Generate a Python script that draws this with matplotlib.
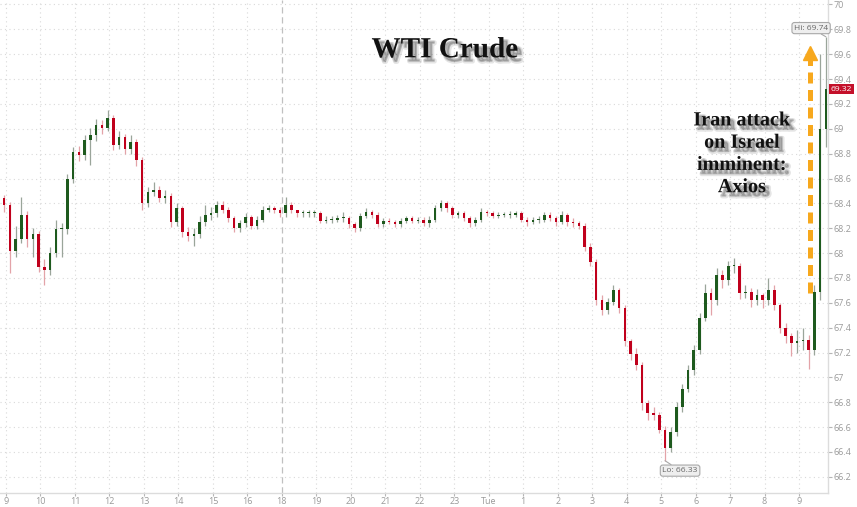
import matplotlib
matplotlib.use("Agg")
import matplotlib.pyplot as plt
import matplotlib.patheffects as pe
import numpy as np

# ---- data (10-minute candles) ----
closes = [68.44, 68.39, 68.02, 68.11, 68.31, 68.11, 68.15, 67.89, 67.86, 68.00,
          68.19, 68.19, 68.60, 68.81, 68.79, 68.91, 68.95, 69.03, 69.01, 69.09,
          68.87, 68.93, 68.84, 68.89, 68.75, 68.40, 68.49, 68.51, 68.44, 68.46,
          68.25, 68.36, 68.17, 68.14, 68.15, 68.25, 68.31, 68.32, 68.39, 68.35,
          68.28, 68.20, 68.24, 68.29, 68.22, 68.27, 68.35, 68.36, 68.35, 68.32,
          68.39, 68.35, 68.32, 68.32, 68.32, 68.32, 68.26, 68.27, 68.27, 68.28,
          68.28, 68.23, 68.20, 68.30, 68.33, 68.31, 68.23, 68.26, 68.25, 68.23,
          68.26, 68.28, 68.26, 68.27, 68.24, 68.27, 68.36, 68.40, 68.36, 68.31,
          68.32, 68.28, 68.24, 68.27, 68.33, 68.32, 68.30, 68.31, 68.31, 68.31,
          68.32, 68.27, 68.25, 68.27, 68.27, 68.31, 68.28, 68.25, 68.31, 68.25,
          68.24, 68.22, 68.05, 67.93, 67.62, 67.54, 67.61, 67.70, 67.56, 67.29,
          67.19, 67.10, 66.79, 66.71, 66.70, 66.58, 66.43, 66.56, 66.76, 66.91,
          67.06, 67.22, 67.48, 67.68, 67.62, 67.82, 67.78, 67.90, 67.90, 67.68,
          67.69, 67.62, 67.66, 67.62, 67.70, 67.58, 67.40, 67.33, 67.28, 67.29,
          67.30, 67.22, 67.69, 69.00, 69.32]
first_open = 68.40
highs = [68.47, 68.47, 68.41, 68.22, 68.45, 68.34, 68.20, 68.18, 67.95, 68.05,
         68.27, 68.24, 68.64, 68.85, 68.86, 68.95, 69.01, 69.08, 69.07, 69.15,
         69.11, 68.98, 68.96, 68.95, 68.92, 68.77, 68.53, 68.57, 68.54, 68.51,
         68.48, 68.40, 68.38, 68.21, 68.20, 68.30, 68.39, 68.37, 68.42, 68.42,
         68.37, 68.30, 68.27, 68.32, 68.31, 68.30, 68.38, 68.39, 68.38, 68.37,
         68.45, 68.41, 68.35, 68.35, 68.35, 68.35, 68.34, 68.30, 68.30, 68.31,
         68.33, 68.30, 68.25, 68.32, 68.36, 68.35, 68.33, 68.28, 68.28, 68.27,
         68.28, 68.30, 68.30, 68.29, 68.29, 68.30, 68.39, 68.43, 68.42, 68.38,
         68.34, 68.34, 68.30, 68.29, 68.36, 68.35, 68.34, 68.33, 68.33, 68.34,
         68.34, 68.34, 68.29, 68.29, 68.30, 68.33, 68.33, 68.30, 68.34, 68.32,
         68.28, 68.26, 68.24, 68.08, 67.95, 67.66, 67.64, 67.74, 67.72, 67.58,
         67.31, 67.24, 67.12, 66.82, 66.76, 66.72, 66.61, 66.60, 66.80, 66.95,
         67.10, 67.26, 67.52, 67.75, 67.72, 67.88, 67.86, 67.94, 67.96, 67.92,
         67.74, 67.72, 67.71, 67.68, 67.80, 67.74, 67.60, 67.44, 67.36, 67.38,
         67.40, 67.34, 67.74, 69.60, 69.74]
lows = [68.36, 68.33, 67.84, 67.97, 68.08, 68.05, 67.97, 67.85, 67.74, 67.82,
        67.97, 67.97, 68.15, 68.56, 68.74, 68.75, 68.71, 68.90, 68.96, 68.98,
        68.83, 68.84, 68.80, 68.80, 68.70, 68.35, 68.37, 68.46, 68.41, 68.40,
        68.21, 68.22, 68.13, 68.10, 68.06, 68.12, 68.22, 68.27, 68.29, 68.32,
        68.25, 68.17, 68.17, 68.21, 68.19, 68.19, 68.25, 68.33, 68.32, 68.29,
        68.29, 68.32, 68.29, 68.29, 68.29, 68.29, 68.24, 68.24, 68.24, 68.25,
        68.25, 68.20, 68.17, 68.18, 68.28, 68.28, 68.21, 68.21, 68.23, 68.21,
        68.21, 68.24, 68.24, 68.24, 68.22, 68.21, 68.25, 68.34, 68.33, 68.28,
        68.28, 68.26, 68.21, 68.22, 68.25, 68.30, 68.28, 68.28, 68.29, 68.28,
        68.29, 68.25, 68.22, 68.23, 68.24, 68.25, 68.26, 68.22, 68.23, 68.22,
        68.21, 68.19, 68.02, 67.90, 67.58, 67.50, 67.51, 67.58, 67.52, 67.25,
        67.14, 67.06, 66.74, 66.66, 66.66, 66.55, 66.33, 66.40, 66.53, 66.72,
        66.88, 67.02, 67.19, 67.45, 67.50, 67.58, 67.72, 67.74, 67.84, 67.63,
        67.64, 67.57, 67.58, 67.56, 67.58, 67.54, 67.36, 67.28, 67.17, 67.20,
        67.22, 67.07, 67.18, 67.62, 68.85]
tick_labels = ['9', '10', '11', '12', '13', '14', '15', '16', '18', '19', '20',
               '21', '22', '23', 'Tue', '1', '2', '3', '4', '5', '6', '7', '8', '9']
session_break_label = '18'
title = 'WTI Crude'
note = 'Iran attack\non Israel\nimminent:\nAxios'

# ---- derived ----
closes = np.array(closes)
opens = np.concatenate([[first_open], closes[:-1]])
highs = np.array(highs)
lows = np.array(lows)
n = len(closes)
t = -0.22 + np.arange(n) / 6.0          # trading-hour index (9:00 = 0)
tick_pos = np.arange(len(tick_labels))

W, H = 857, 507
fig = plt.figure(figsize=(W / 100, H / 100), dpi=100)
ax = fig.add_axes([0, 14 / H, 828 / W, 493 / H])
ax.set_xlim(-0.174, 23.84)
ax.set_ylim(66.070, 70.036)

# grid
for y in np.arange(66.2, 70.01, 0.2):
    ax.axhline(y, color='#d9d9d9', lw=0.8, ls=(0, (1, 3)), zorder=0)
for p, lab in zip(tick_pos, tick_labels):
    if lab == session_break_label:
        ax.axvline(p, color='#c0c0c0', lw=0.9, ls=(0, (5, 3)), zorder=0)
    else:
        ax.axvline(p, color='#d9d9d9', lw=0.8, ls=(0, (1, 3)), zorder=0)

# candles
up = closes >= opens
w = 0.45 / 6
body_col = np.where(up, '#1e5a1e', '#c0001c')
wick_col = np.where(up, '#9aa59a', '#e3a3a8')
ax.vlines(t, lows, highs, colors=wick_col, lw=0.9, zorder=2)
bottoms = np.minimum(opens, closes)
heights = np.maximum(np.abs(closes - opens), 0.008)
ax.bar(t, heights, width=w, bottom=bottoms, color=body_col, lw=0, zorder=3)

# axes styling
for s in ['top', 'left']:
    ax.spines[s].set_visible(False)
for s in ['bottom', 'right']:
    ax.spines[s].set_color('#dcdcdc')
    ax.spines[s].set_linewidth(1.0)
ax.yaxis.tick_right()
yt = np.round(np.arange(66.2, 70.01, 0.2), 1)
ax.set_yticks(yt)
ax.set_yticklabels([('%g' % v) for v in yt])
ax.set_xticks(tick_pos)
ax.set_xticklabels(tick_labels)
ax.tick_params(axis='both', colors='#b5b5b5', labelcolor='#9a9a9a', labelsize=6.5,
               width=0.8)
ax.tick_params(axis='y', length=3, pad=1)
ax.tick_params(axis='x', length=2.5, pad=0.5)
for lab in ax.get_xticklabels() + ax.get_yticklabels():
    lab.set_family('Open Sans')

# title and note with soft shadow
shadow = [pe.Stroke(linewidth=3, foreground='#000000', alpha=0.10, offset=(3, -3)),
          pe.Stroke(linewidth=1.5, foreground='#000000', alpha=0.15, offset=(2.5, -2.5)),
          pe.Normal()]
ax.text(0.537, 0.899, title, transform=ax.transAxes, ha='center', va='center',
        family='Liberation Serif', weight='bold', fontsize=21, color='#111111',
        path_effects=shadow, zorder=6)
ax.text(0.896, 0.688, note, transform=ax.transAxes, ha='center', va='center',
        family='Liberation Serif', weight='bold', fontsize=14.5, color='#111111',
        linespacing=1.15, path_effects=shadow, zorder=6)

# orange dashed arrow
ax_x = 23.32
ax.plot([ax_x, ax_x], [67.68, 69.55], color='#f7a81d', lw=3.6,
        ls=(0, (2.2, 1.3)), solid_capstyle='butt', dash_capstyle='butt', zorder=5)
ax.plot([ax_x], [69.61], marker='^', ms=10, color='#f7a81d', mec='#f7a81d', zorder=5)

# Hi / Lo labels
ih = int(np.argmax(highs))
il = int(np.argmin(lows))
box = dict(boxstyle='round,pad=0.25,rounding_size=0.3', fc='#eeeeee', ec='#a8a8a8', lw=0.8)
ax.annotate('Hi: %.2f' % highs[ih], xy=(t[ih], highs[ih]), xytext=(23.35, 69.81),
            ha='center', va='center', fontsize=6, color='#666666', family='Open Sans',
            bbox=box, arrowprops=dict(arrowstyle='-', color='#a8a8a8', lw=0.8,
                                      shrinkA=0, shrinkB=0), zorder=7)
ax.annotate('Lo: %.2f' % lows[il], xy=(t[il], lows[il]), xytext=(19.55, 66.25),
            ha='center', va='center', fontsize=6, color='#666666', family='Open Sans',
            bbox=box, arrowprops=dict(arrowstyle='-', color='#a8a8a8', lw=0.8,
                                      shrinkA=0, shrinkB=0), zorder=7)

# last price tag on the right axis
ax.text(1.003, closes[-1], '%.2f' % closes[-1], transform=ax.get_yaxis_transform(),
        ha='left', va='center', fontsize=6, color='white', family='Open Sans',
        bbox=dict(boxstyle='square,pad=0.2', fc='#c4102a', ec='none'), zorder=8,
        clip_on=False)

fig.savefig('out.png', dpi=100, facecolor='white')
